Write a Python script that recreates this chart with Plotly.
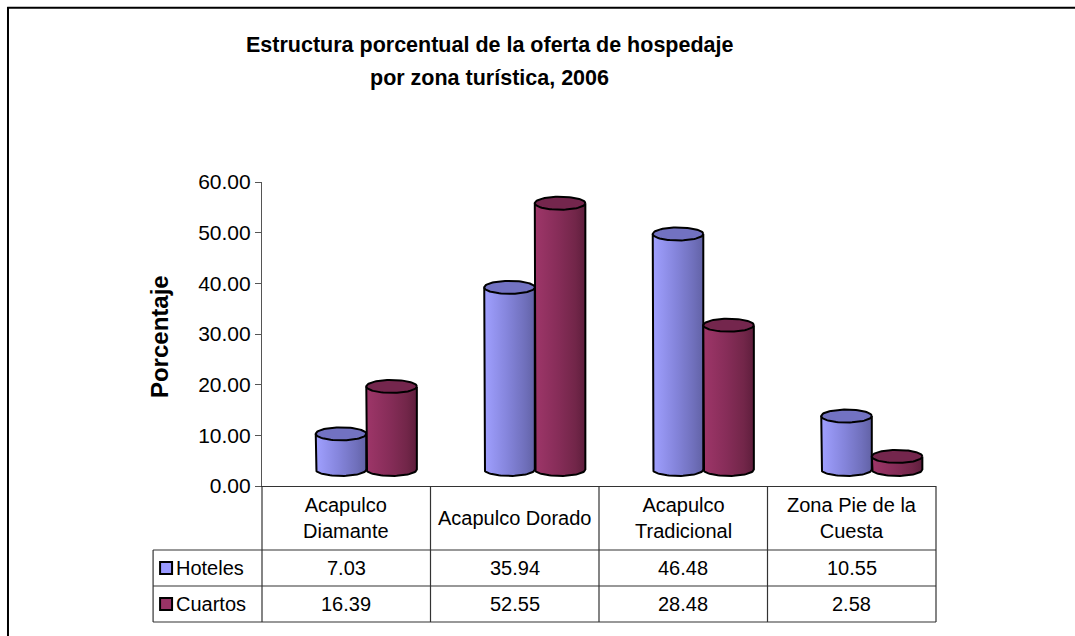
import numpy as np
import plotly.graph_objects as go

# ---------------- data ----------------
categories = ["Acapulco<br>Diamante", "Acapulco Dorado", "Acapulco<br>Tradicional", "Zona Pie de la<br>Cuesta"]
series_names = ["Hoteles", "Cuartos"]
hoteles = [7.03, 35.94, 46.48, 10.55]
cuartos = [16.39, 52.55, 28.48, 2.58]
y_ticks = [0, 10, 20, 30, 40, 50, 60]

title_line1 = "Estructura porcentual de la oferta de hospedaje"
title_line2 = "por zona turística, 2006"
y_title = "Porcentaje"

# ---------------- styling ----------------
FONT = "Liberation Sans, Arial, sans-serif"
W, H = 1075, 636
PX0, PX1 = 262, 936.5      # plot area left/right (px)
PYT, PYB = 182, 486        # plot area top/bottom (px)
BASE = 3.26                # 3-D floor offset (value units)
SHIFT = 0.119              # 3-D depth offset (category units)
BW = 0.30                  # cylinder width (category units)
EB = 1.28                  # ellipse half-height (value units)

body_col = {"Hoteles": "#8484E0", "Cuartos": "#852D58"}
grad = {"Hoteles": [[0, "#A0A0FF"], [0.45, "#8585DC"], [0.8, "#7070BC"], [1, "#6262A6"]],
        "Cuartos": [[0, "#9E3669"], [0.45, "#872D59"], [0.8, "#722649"], [1, "#5E1E3C"]]}
top_col = {"Hoteles": "#7272C2", "Cuartos": "#74264D"}
key_col = {"Hoteles": "#9999FF", "Cuartos": "#993366"}


def px2x(px):
    return (px - PX0) / (PX1 - PX0)


def py2y(py):
    return (PYB - py) / (PYB - PYT)


fig = go.Figure()
values = {"Hoteles": hoteles, "Cuartos": cuartos}
offsets = {"Hoteles": -BW / 2, "Cuartos": BW / 2}
idx = np.arange(len(categories))
t_low = np.linspace(np.pi, 2 * np.pi, 40)
t_full = np.linspace(0, 2 * np.pi, 80)

for name in series_names:
    vals = values[name]
    cx = idx + SHIFT + offsets[name]
    fig.add_trace(go.Bar(
        x=cx, y=vals, base=BASE, width=BW, name=name,
        marker=dict(color=body_col[name], line=dict(width=0)),
        showlegend=False, hoverinfo="skip"))

for name in series_names:
    vals = values[name]
    cx = idx + SHIFT + offsets[name]
    a = BW / 2
    # shaded cylinder body (one per bar so the gradient spans each cylinder)
    for c, v in zip(cx, vals):
        top = BASE + v
        ox = [c - a, c - a] + list(c + a * np.cos(t_low)) + [c + a, c + a]
        oy = [top, BASE] + list(BASE + EB * np.sin(t_low)) + [BASE, top]
        fig.add_trace(go.Scatter(x=ox, y=oy, mode="lines", fill="toself",
                                 fillgradient=dict(type="horizontal", colorscale=grad[name]),
                                 line=dict(color="black", width=2),
                                 showlegend=False, hoverinfo="skip", cliponaxis=False))
    # top ellipses
    tx, ty = [], []
    for c, v in zip(cx, vals):
        top = BASE + v
        tx += list(c + a * np.cos(t_full)) + [None]
        ty += list(top + EB * np.sin(t_full)) + [None]
    fig.add_trace(go.Scatter(x=tx, y=ty, mode="lines", fill="toself",
                             fillcolor=top_col[name],
                             line=dict(color="black", width=2),
                             showlegend=False, hoverinfo="skip", cliponaxis=False))

shapes = []
annotations = []
line_col = "#333333"

# outer frame (top & left)
shapes.append(dict(type="line", xref="paper", yref="paper",
                   x0=px2x(7), x1=px2x(W + 5), y0=py2y(7.8), y1=py2y(7.8),
                   line=dict(color="black", width=2)))
shapes.append(dict(type="line", xref="paper", yref="paper",
                   x0=px2x(7.8), x1=px2x(7.8), y0=py2y(7), y1=py2y(H + 5),
                   line=dict(color="black", width=2)))

# data table
row_y = [486, 550, 586, 622]
col_x = [PX0 + i * (PX1 - PX0) / len(categories) for i in range(len(categories) + 1)]
LEFT = 153
for ry in row_y[1:]:
    shapes.append(dict(type="line", xref="paper", yref="paper",
                       x0=px2x(LEFT), x1=px2x(PX1), y0=py2y(ry), y1=py2y(ry),
                       line=dict(color=line_col, width=1.2)))
for cxp in col_x:
    shapes.append(dict(type="line", xref="paper", yref="paper",
                       x0=px2x(cxp), x1=px2x(cxp), y0=py2y(486), y1=py2y(622),
                       line=dict(color=line_col, width=1.2)))
shapes.append(dict(type="line", xref="paper", yref="paper",
                   x0=px2x(LEFT), x1=px2x(LEFT), y0=py2y(550), y1=py2y(622),
                   line=dict(color=line_col, width=1.2)))

TS = 20
for i, cat in enumerate(categories):
    xc = (col_x[i] + col_x[i + 1]) / 2
    annotations.append(dict(text=cat, xref="paper", yref="paper",
                            x=px2x(xc), y=py2y(518), showarrow=False,
                            xanchor="center", yanchor="middle",
                            font=dict(family=FONT, size=TS, color="black")))
    for r, name in enumerate(series_names):
        ry = (row_y[r + 1] + row_y[r + 2]) / 2
        annotations.append(dict(text=f"{values[name][i]:.2f}", xref="paper", yref="paper",
                                x=px2x(xc), y=py2y(ry), showarrow=False,
                                xanchor="center", yanchor="middle",
                                font=dict(family=FONT, size=TS, color="black")))

for r, name in enumerate(series_names):
    ry = (row_y[r + 1] + row_y[r + 2]) / 2
    shapes.append(dict(type="rect", xref="paper", yref="paper",
                       x0=px2x(160), x1=px2x(172), y0=py2y(ry - 6), y1=py2y(ry + 6),
                       fillcolor=key_col[name], line=dict(color="black", width=2)))
    annotations.append(dict(text=name, xref="paper", yref="paper",
                            x=px2x(174), y=py2y(ry), showarrow=False,
                            xanchor="left", yanchor="middle",
                            font=dict(family=FONT, size=TS, color="black")))

# titles
annotations.append(dict(text=f"<b>{title_line1}</b>", xref="paper", yref="paper",
                        x=px2x(490), y=py2y(45), showarrow=False,
                        xanchor="center", yanchor="middle",
                        font=dict(family=FONT, size=21.5, color="black")))
annotations.append(dict(text=f"<b>{title_line2}</b>", xref="paper", yref="paper",
                        x=px2x(490), y=py2y(78), showarrow=False,
                        xanchor="center", yanchor="middle",
                        font=dict(family=FONT, size=21.5, color="black")))
annotations.append(dict(text=f"<b>{y_title}</b>", xref="paper", yref="paper",
                        x=px2x(159), y=py2y(337), showarrow=False, textangle=-90,
                        xanchor="center", yanchor="middle",
                        font=dict(family=FONT, size=24, color="black")))

fig.update_layout(
    width=W, height=H,
    margin=dict(l=PX0, r=W - PX1, t=PYT, b=H - PYB, autoexpand=False),
    paper_bgcolor="white", plot_bgcolor="white",
    barmode="overlay",
    showlegend=False,
    shapes=shapes,
    annotations=annotations,
    xaxis=dict(range=[-0.5, len(categories) - 0.5], showticklabels=False, ticks="",
               showgrid=False, zeroline=False, showline=True,
               linecolor=line_col, linewidth=1.2, fixedrange=True),
    yaxis=dict(range=[0, 60], tickvals=y_ticks, tickformat=".2f",
               ticks="outside", ticklen=6, tickcolor="#555555",
               showline=True, linecolor="#555555", linewidth=1.2,
               showgrid=False, zeroline=False, fixedrange=True,
               tickfont=dict(family=FONT, size=21, color="black")),
)

fig.write_html(
    "out.html",
    config={"displayModeBar": False},
    post_script="document.body.style.margin='0';document.body.style.overflow='hidden';",
)
